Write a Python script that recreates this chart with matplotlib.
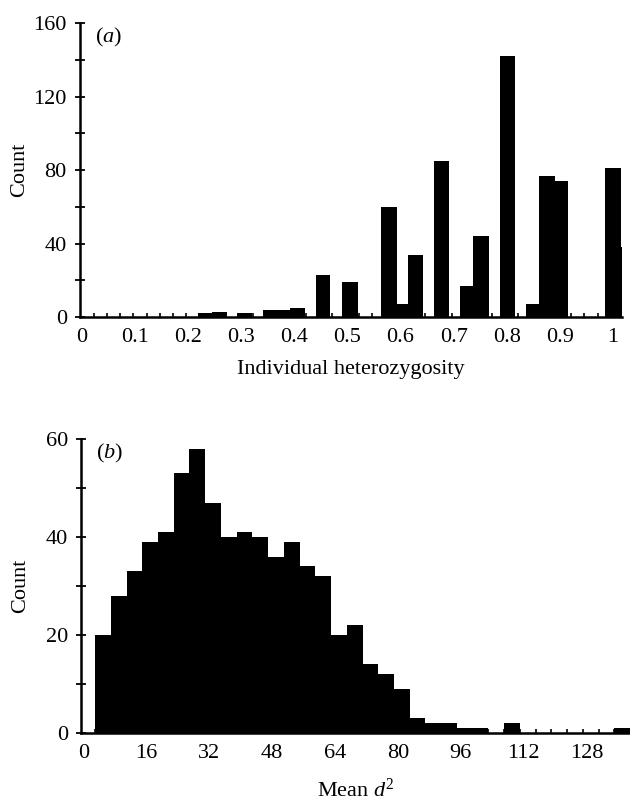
import numpy as np
import matplotlib
matplotlib.use('Agg')
import matplotlib.pyplot as plt
from matplotlib.ticker import MultipleLocator, FixedLocator

plt.rcParams['font.family'] = ['Liberation Serif', 'DejaVu Serif']
plt.rcParams['mathtext.fontset'] = 'custom'
plt.rcParams['mathtext.rm'] = 'Liberation Serif'
plt.rcParams['mathtext.it'] = 'Liberation Serif:italic'

# ---- panel (a): individual heterozygosity
het_left = [0.219, 0.244, 0.291, 0.341, 0.392, 0.441, 0.490, 0.563, 0.593, 0.615,
            0.663, 0.712, 0.737, 0.787, 0.837, 0.861, 0.891, 0.985, 1.015]
het_right = [0.244, 0.273, 0.321, 0.392, 0.420, 0.468, 0.519, 0.593, 0.615, 0.643,
             0.692, 0.737, 0.766, 0.816, 0.861, 0.891, 0.916, 1.015, 1.040]
het_count = [2, 3, 2, 4, 5, 23, 19, 60, 7, 34,
             85, 17, 44, 142, 7, 77, 74, 81, 38]
het_ticks = [0, 0.1, 0.2, 0.3, 0.4, 0.5, 0.6, 0.7, 0.8, 0.9, 1]
het_labels = ['0', '0.1', '0.2', '0.3', '0.4', '0.5', '0.6', '0.7', '0.8', '0.9', '1']

# ---- panel (b): mean d^2, bins of width 4 starting at 3
d2_edges = np.arange(3, 140, 4)
d2_count = [20, 28, 33, 39, 41, 53, 58, 47, 40, 41, 40, 36, 39, 34, 32, 20, 22,
            14, 12, 9, 3, 2, 2, 1, 1, 0, 2, 0, 0, 0, 0, 0, 0, 1]
d2_ticks = [0, 16, 32, 48, 64, 80, 96, 112, 128]

FS = 16
fig = plt.figure(figsize=(6.3, 8.02), dpi=100)
ax1 = fig.add_axes([0.127, 0.6047, 0.860, 0.3666])
ax2 = fig.add_axes([0.129, 0.0860, 0.871, 0.3666])

left = np.array(het_left)
width = np.array(het_right) - left
ax1.bar(left, het_count, width=width, align='edge', color='black', linewidth=0)
ax1.set_xlim(-0.004, 1.017)
ax1.set_ylim(0, 160)
ax1.set_xticks(het_ticks)
ax1.set_xticklabels(het_labels)
ax1.xaxis.set_minor_locator(FixedLocator(0.0215 + 0.025 * np.arange(39)))
ax1.yaxis.set_major_locator(MultipleLocator(40))
ax1.yaxis.set_minor_locator(MultipleLocator(20))
ax1.set_xlabel('Individual heterozygosity', fontsize=FS)
ax1.text(0.027, 0.95, r'($\mathit{a}$)', transform=ax1.transAxes, fontsize=FS, va='center')

ax2.stairs(d2_count, d2_edges, fill=True, color='black', linewidth=0)
ax2.set_xlim(-0.5, 139)
ax2.set_ylim(0, 60)
ax2.set_xticks(d2_ticks)
ax2.xaxis.set_minor_locator(FixedLocator(d2_edges))
ax2.yaxis.set_major_locator(MultipleLocator(20))
ax2.yaxis.set_minor_locator(MultipleLocator(10))
ax2.set_xlabel(r'Mean $\mathit{d}^{2}$', fontsize=FS)
ax2.text(0.027, 0.95, r'($\mathit{b}$)', transform=ax2.transAxes, fontsize=FS, va='center')

for ax, xl in ((ax1, -0.146), (ax2, -0.155)):
    ax.set_ylabel('Count', fontsize=FS)
    ax.yaxis.set_label_coords(-0.093, 0.5)
    ax.xaxis.set_label_coords(0.5, xl)
    ax.spines['top'].set_visible(False)
    ax.spines['right'].set_visible(False)
    ax.spines['left'].set_linewidth(1.8)
    ax.spines['bottom'].set_linewidth(1.8)
    ax.tick_params(axis='x', which='major', length=0, pad=8, labelsize=FS)
    ax.tick_params(axis='x', which='minor', direction='in', length=3, width=1.2)
    ax.tick_params(axis='y', which='both', direction='inout', length=7, width=1.3,
                   pad=6, labelsize=FS)

fig.savefig('out.png', dpi=100)
